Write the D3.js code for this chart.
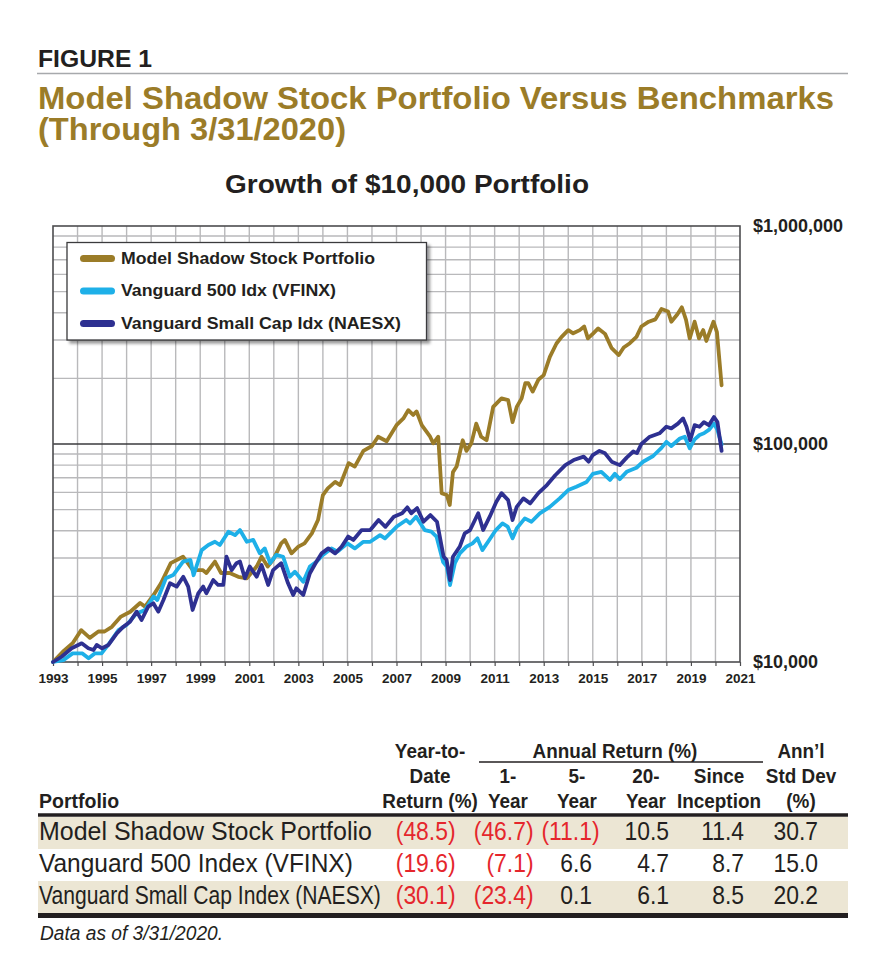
<!DOCTYPE html>
<html>
<head>
<meta charset="utf-8">
<script src="https://cdn.jsdelivr.net/npm/d3@7"></script>
<style>
  body { margin: 0; background: #fff; }
  svg text { font-family: "Liberation Sans", Arial, Helvetica, sans-serif; }
</style>
</head>
<body>
<svg id="chart" width="881" height="968"></svg>
<script>
// ---- data ----
var titleLines = ["Model Shadow Stock Portfolio Versus Benchmarks", "(Through 3/31/2020)"];
var seriesNames = ["Model Shadow Stock Portfolio", "Vanguard 500 Idx (VFINX)", "Vanguard Small Cap Idx (NAESX)"];

var msspDates = [1993.00,1993.40,1993.80,1994.15,1994.50,1994.85,1995.10,1995.40,1995.75,1996.15,1996.55,1996.75,1997.10,1997.40,1997.80,1998.30,1998.70,1999.10,1999.25,1999.60,1999.85,2000.20,2000.55,2000.90,2001.30,2001.50,2001.75,2001.97,2002.30,2002.45,2002.72,2003.00,2003.25,2003.55,2003.80,2004.00,2004.20,2004.50,2004.70,2005.05,2005.30,2005.65,2006.00,2006.25,2006.60,2007.00,2007.28,2007.48,2007.68,2007.82,2008.03,2008.37,2008.50,2008.70,2008.84,2009.05,2009.17,2009.30,2009.45,2009.70,2009.85,2010.05,2010.25,2010.45,2010.67,2010.94,2011.28,2011.55,2011.73,2011.90,2012.10,2012.25,2012.37,2012.55,2012.78,2013.00,2013.25,2013.52,2013.73,2014.00,2014.20,2014.47,2014.65,2014.80,2015.00,2015.22,2015.50,2015.77,2016.06,2016.26,2016.51,2016.78,2016.98,2017.28,2017.55,2017.80,2018.07,2018.20,2018.45,2018.63,2018.80,2018.95,2019.15,2019.33,2019.50,2019.63,2019.92,2020.06,2020.25];
var msspValues = [10000,11150,12200,14000,12900,13800,13800,14500,16100,17000,18650,17950,20300,22950,28400,30400,26400,26400,25600,28900,25600,25600,24600,24200,27400,30400,27400,29400,35000,36300,31500,33800,35000,38900,44800,58300,62600,67000,64800,81700,78800,93000,97900,108000,103000,122000,131000,143000,136000,141000,122000,108000,100700,108000,59500,58300,52500,74300,78800,104000,93000,100700,124000,108000,104000,148000,162000,159000,126000,148000,162000,190000,190000,174000,197000,207000,251000,289000,310000,333000,322000,333000,346000,305000,320000,339000,320000,275000,256000,277000,290000,310000,346000,364000,373000,416000,405000,364000,394000,424000,371000,305000,364000,305000,333000,297000,364000,326000,186000];

var vfinxDates = [1993.00,1993.42,1993.80,1994.20,1994.45,1994.70,1994.98,1995.30,1995.67,1996.00,1996.40,1996.75,1997.10,1997.25,1997.60,1997.90,1998.30,1998.60,1998.73,1999.06,1999.33,1999.60,1999.80,2000.15,2000.42,2000.62,2000.90,2001.16,2001.43,2001.63,2001.85,2002.10,2002.38,2002.65,2002.86,2003.20,2003.47,2003.75,2004.00,2004.35,2004.60,2005.00,2005.30,2005.65,2005.93,2006.33,2006.53,2007.00,2007.40,2007.55,2007.80,2008.15,2008.42,2008.63,2008.90,2009.05,2009.18,2009.38,2009.58,2009.85,2010.10,2010.30,2010.50,2010.78,2011.05,2011.32,2011.53,2011.73,2011.90,2012.23,2012.50,2012.84,2013.25,2013.65,2014.00,2014.33,2014.75,2015.00,2015.35,2015.70,2015.90,2016.10,2016.38,2016.78,2017.05,2017.46,2017.80,2018.00,2018.20,2018.55,2018.75,2018.95,2019.15,2019.35,2019.53,2019.73,2019.94,2020.08,2020.25];
var vfinxValues = [10000,10200,10950,10950,10400,10950,10950,12200,14000,14800,16700,17300,19950,19250,24200,25050,28900,29400,25000,32600,34400,35600,34400,39600,38200,40300,35600,36300,31500,33200,28400,31000,30400,24600,25950,23350,27400,28900,31000,33200,32100,35000,33200,35600,35600,38200,36900,41700,44800,43200,46400,40300,39600,37600,28750,27400,22550,28400,31500,33800,35000,36900,32600,36300,40300,43200,41800,36900,41000,45600,44000,48100,51500,56300,61500,63700,67000,73000,74500,68400,73000,69000,74500,77800,82900,88100,96000,102300,97900,106000,108000,95600,105000,110000,112000,116000,124000,116000,99500];

var naesxDates = [1993.00,1993.35,1993.76,1994.17,1994.44,1994.65,1994.78,1995.00,1995.26,1995.60,1995.87,1996.14,1996.41,1996.61,1996.88,1997.09,1997.29,1997.50,1997.77,1998.04,1998.31,1998.51,1998.69,1998.92,1999.12,1999.25,1999.53,1999.73,1999.94,2000.07,2000.28,2000.48,2000.62,2000.82,2001.02,2001.30,2001.50,2001.77,2001.97,2002.30,2002.58,2002.79,2002.92,2003.20,2003.47,2003.74,2003.95,2004.22,2004.50,2004.76,2005.03,2005.24,2005.58,2005.93,2006.27,2006.55,2006.89,2007.23,2007.44,2007.60,2007.84,2008.10,2008.38,2008.65,2008.92,2009.04,2009.18,2009.30,2009.58,2009.78,2010.00,2010.33,2010.53,2010.80,2011.07,2011.28,2011.55,2011.73,2011.90,2012.17,2012.45,2012.78,2013.13,2013.47,2013.88,2014.22,2014.63,2014.83,2015.00,2015.27,2015.50,2015.77,2016.10,2016.38,2016.65,2016.80,2016.98,2017.30,2017.72,2018.00,2018.20,2018.47,2018.68,2018.82,2018.97,2019.15,2019.35,2019.53,2019.73,2019.94,2020.08,2020.25];
var naesxValues = [10000,10570,11560,12180,11560,11350,11970,11560,11970,13540,14520,15300,17020,15580,17950,18600,17020,19250,22960,22170,24600,22170,17320,20660,22170,20660,23770,22560,22560,30400,26400,28400,28900,24200,27400,24600,27860,22560,26400,28400,22960,20300,21770,20300,25520,28900,31500,33200,31500,33800,37600,36300,40300,40300,44800,41700,46400,48100,51200,48100,50800,44000,47200,44000,30400,29400,23770,30400,33800,38900,40300,48100,40300,46400,54300,59500,55300,44800,51500,56300,53400,59500,64800,71900,80000,84400,87500,83000,89000,93000,90600,83000,80000,86600,92400,90800,100000,107600,112000,120000,118000,124000,131000,120000,104000,122000,120000,126000,122000,133000,126000,93000];

var yLabelValues = [10000, 100000, 1000000];
var xLabelYears = d3.range(1993, 2022, 2);

var tableRows = ["Model Shadow Stock Portfolio", "Vanguard 500 Index (VFINX)", "Vanguard Small Cap Index (NAESX)"];
var ytdReturn = [-48.5, -19.6, -30.1];
var oneYear = [-46.7, -7.1, -23.4];
var fiveYear = [-11.1, 6.6, 0.1];
var twentyYear = [10.5, 4.7, 6.1];
var sinceInception = [11.4, 8.7, 8.5];
var stdDev = [30.7, 15.0, 20.2];
var colHeads = [["Year-to-", "Date", "Return (%)"], ["", "1-", "Year"], ["", "5-", "Year"], ["", "20-", "Year"], ["", "Since", "Inception"], ["Ann\u2019l", "Std Dev", "(%)"]];
var spanHead = "Annual Return (%)";
var footNote = "Data as of 3/31/2020.";

// ---- styles ----
var gold = "#9b7c28", sky = "#1eb0e8", navy = "#2e3091", red = "#e5262c", tan = "#ece6d4", ink = "#231f20";
var lineColors = [gold, sky, navy];

var svg = d3.select("#chart");

function fit(sel, w) {
  sel.attr("textLength", w).attr("lengthAdjust", "spacingAndGlyphs");
}
function squeeze(sel, k) {
  sel.each(function() {
    d3.select(this).attr("textLength", this.getComputedTextLength() * k).attr("lengthAdjust", "spacingAndGlyphs");
  });
}
// narrow text by scaling it horizontally about its anchor point
function narrow(parent, px, py, str, anchor, fill, sx, width) {
  var t = parent.append("text").attr("text-anchor", anchor).attr("fill", fill).text(str);
  if (width) sx = width / t.node().getComputedTextLength();
  t.attr("transform", "translate(" + px + "," + py + ") scale(" + sx + ",1)");
  return t;
}

// ---- heading ----
svg.append("text").attr("x", 38).attr("y", 66.5).attr("font-size", 23).attr("font-weight", "bold")
  .attr("fill", ink).text("FIGURE 1").call(fit, 114);
svg.append("line").attr("x1", 37).attr("x2", 848).attr("y1", 73.5).attr("y2", 73.5)
  .attr("stroke", "#a7a9ac").attr("stroke-width", 1.5);
svg.append("text").attr("x", 38).attr("y", 108.5).attr("font-size", 30.5).attr("font-weight", "bold")
  .attr("fill", gold).text(titleLines[0]).call(fit, 796);
svg.append("text").attr("x", 38).attr("y", 140).attr("font-size", 30.5).attr("font-weight", "bold")
  .attr("fill", gold).text(titleLines[1]).call(fit, 308);
svg.append("text").attr("x", 407).attr("y", 193).attr("text-anchor", "middle").attr("font-size", 25)
  .attr("font-weight", "bold").attr("fill", ink).text("Growth of $10,000 Portfolio").call(fit, 364);

// ---- chart ----
var x = d3.scaleLinear().domain([1993, 2021]).range([53, 740]);
var y = d3.scaleLog().domain([10000, 1000000]).range([662, 226]);

var grid = svg.append("g");
grid.selectAll(".vg").data(d3.range(1994, 2021)).enter().append("line")
  .attr("x1", function(d) { return x(d); }).attr("x2", function(d) { return x(d); })
  .attr("y1", 226).attr("y2", 662).attr("stroke", "#b9b9bb").attr("stroke-width", 1.4);
grid.selectAll(".hg").data(y.ticks().filter(function(d) { return d > 10000 && d < 1000000 && d !== 100000; }))
  .enter().append("line")
  .attr("x1", 53).attr("x2", 740)
  .attr("y1", function(d) { return y(d); }).attr("y2", function(d) { return y(d); })
  .attr("stroke", "#b9b9bb").attr("stroke-width", 1.4);
grid.append("line").attr("x1", 53).attr("x2", 740).attr("y1", y(100000)).attr("y2", y(100000))
  .attr("stroke", "#3a3a3c").attr("stroke-width", 1.3);

svg.append("rect").attr("x", 53).attr("y", 226).attr("width", 687).attr("height", 436)
  .attr("fill", "none").attr("stroke", "#4d4d4f").attr("stroke-width", 1.6);

var xAxis = d3.axisBottom(x).tickValues(d3.range(1993, 2022)).tickSize(4).tickPadding(7)
  .tickFormat(function(d) { return xLabelYears.indexOf(d) >= 0 ? d : ""; });
var gx = svg.append("g").attr("transform", "translate(0,662)").call(xAxis);
gx.attr("font-family", null).attr("font-size", 13.5).attr("font-weight", "bold");
gx.select(".domain").remove();
gx.selectAll("line").attr("stroke", "#4d4d4f").attr("stroke-width", 1.2);
gx.selectAll("text").attr("fill", ink);

var yAxis = d3.axisRight(y).tickValues(yLabelValues).tickSize(0).tickPadding(13).tickFormat(d3.format("$,"));
var gy = svg.append("g").attr("transform", "translate(740,0)").call(yAxis);
gy.attr("font-family", null).attr("font-size", 18).attr("font-weight", "bold");
gy.select(".domain").remove();
gy.selectAll("text").attr("fill", ink);

var seriesData = [d3.zip(msspDates, msspValues), d3.zip(vfinxDates, vfinxValues), d3.zip(naesxDates, naesxValues)];
var line = d3.line().x(function(d) { return x(d[0]); }).y(function(d) { return y(d[1]); });
svg.append("g").selectAll("path").data(seriesData).enter().append("path")
  .attr("d", line).attr("fill", "none")
  .attr("stroke", function(d, i) { return lineColors[i]; })
  .attr("stroke-width", 3.8).attr("stroke-linejoin", "round").attr("stroke-linecap", "round");

// ---- legend ----
var defs = svg.append("defs");
var shadow = defs.append("filter").attr("id", "shadow").attr("x", "-10%").attr("y", "-10%")
  .attr("width", "130%").attr("height", "140%");
shadow.append("feDropShadow").attr("dx", 3).attr("dy", 3).attr("stdDeviation", 1.8)
  .attr("flood-color", "#000").attr("flood-opacity", 0.4);

var legend = svg.append("g");
legend.append("rect").attr("x", 67).attr("y", 242.5).attr("width", 359.5).attr("height", 97.5)
  .attr("fill", "#fff").attr("stroke", "#3a3a3c").attr("stroke-width", 1.3).attr("filter", "url(#shadow)");
var ly = d3.scalePoint().domain(seriesNames).range([258.5, 323.5]);
var legendWidths = [254, 215, 280];
seriesNames.forEach(function(name, i) {
  legend.append("line").attr("x1", 83.5).attr("x2", 111.5).attr("y1", ly(name)).attr("y2", ly(name))
    .attr("stroke", lineColors[i]).attr("stroke-width", 7).attr("stroke-linecap", "round");
  legend.append("text").attr("x", 121).attr("y", ly(name) + 5.3).attr("font-size", 16)
    .attr("font-weight", "bold").attr("fill", ink).text(name).call(fit, legendWidths[i]);
});

// ---- table ----
var table = svg.append("g");
var rowY = d3.scaleBand().domain(d3.range(tableRows.length)).range([817, 913]);
table.selectAll(".band").data(tableRows).enter().append("rect")
  .attr("x", 38).attr("width", 810)
  .attr("y", function(d, i) { return rowY(i); }).attr("height", rowY.bandwidth())
  .attr("fill", function(d, i) { return i % 2 === 0 ? tan : "#fff"; });
table.append("line").attr("x1", 38).attr("x2", 848).attr("y1", 815).attr("y2", 815)
  .attr("stroke", ink).attr("stroke-width", 3.5);
table.append("line").attr("x1", 38).attr("x2", 848).attr("y1", 915.5).attr("y2", 915.5)
  .attr("stroke", ink).attr("stroke-width", 5);

var headBase = [758, 783, 808];
var colCenter = [430, 508, 577, 646, 719, 801];
var colRight = [448, 526, 592, 669, 744, 818];
var heads = table.append("g").attr("font-size", 19.5).attr("font-weight", "bold");
colHeads.forEach(function(lines, c) {
  lines.forEach(function(t, r) {
    if (t) narrow(heads, colCenter[c], headBase[r], t, "middle", ink, 0.97);
  });
});
narrow(heads, 615, headBase[0], spanHead, "middle", ink, 0.97);
narrow(heads, 39, headBase[2], "Portfolio", "start", ink, 1);
table.append("line").attr("x1", 479).attr("x2", 763).attr("y1", 762).attr("y2", 762)
  .attr("stroke", ink).attr("stroke-width", 1.3);

// regular condensed body text
var labelWidths = [333, 314, 342];
var labels = table.append("g").attr("font-size", 26.5);
var nums = table.append("g").attr("font-size", 26);
var parenShift = 7.5;
tableRows.forEach(function(name, i) {
  var base = rowY(i) + 23;
  narrow(labels, 39, base, name, "start", ink, 1, labelWidths[i]);
  [ytdReturn, oneYear, fiveYear, twentyYear, sinceInception, stdDev].forEach(function(col, c) {
    var v = col[i];
    var neg = v < 0;
    var s = neg ? "(" + Math.abs(v).toFixed(1) + ")" : v.toFixed(1);
    narrow(nums, colRight[c] + (neg ? parenShift : 0), base, s, "end", neg ? red : ink, 0.88);
  });
});

svg.append("text").attr("x", 40).attr("y", 940).attr("font-size", 19.5).attr("font-style", "italic")
  .attr("fill", ink).text(footNote).call(fit, 183);
</script>
</body>
</html>
